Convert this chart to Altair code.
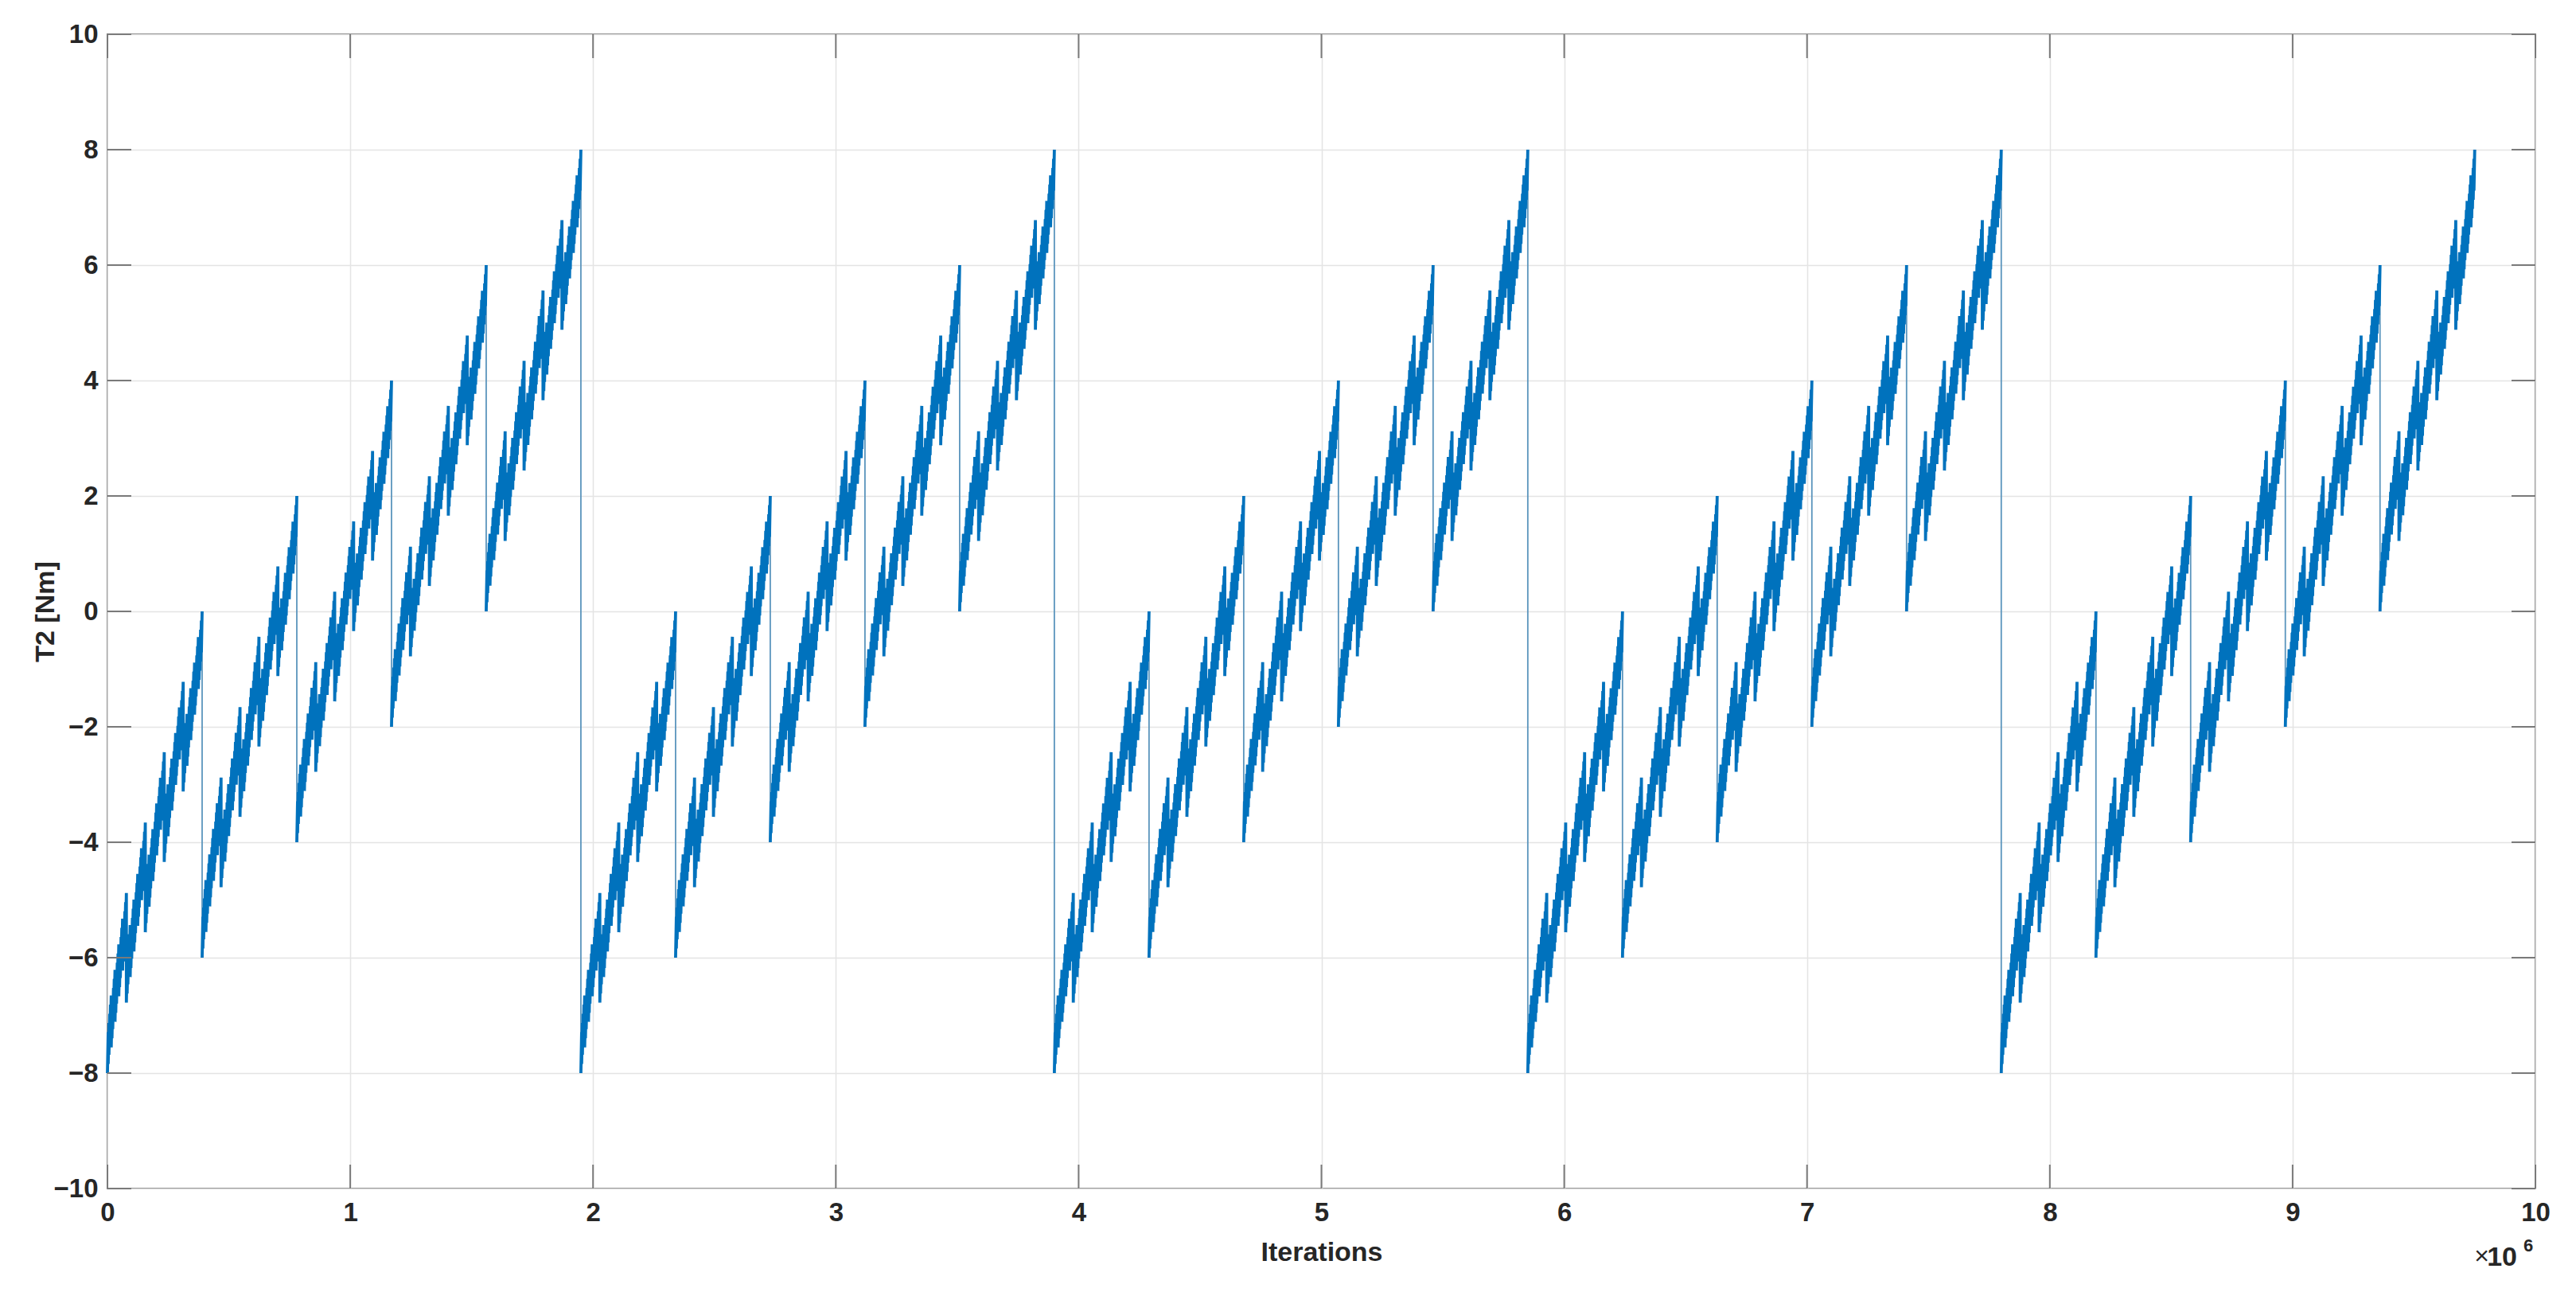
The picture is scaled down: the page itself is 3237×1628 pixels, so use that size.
import altair as alt
import numpy as np
import pandas as pd

# ---- values ----
PERIOD_STARTS = [0.0, 1.95e6, 3.90e6, 5.85e6, 7.80e6]   # where T2 jumps back to -8
PERIOD_LENGTH = 1.95e6
SUBRAMP_FIRST = [-8.0, -6.0, -4.0, -2.0, 0.0]           # first value of each sub-ramp
SUBRAMP_LAST = [0.0, 2.0, 4.0, 6.0, 8.0]                # last value of each sub-ramp
NESTED_DROPS = [6.0, 1.9, 0.9, 0.55]                    # drop at end of sub-ramp / tooth / step / ripple
BRANCH = 5                                              # each ramp holds 5 smaller ones
X_TICKS = [0, 1e6, 2e6, 3e6, 4e6, 5e6, 6e6, 7e6, 8e6, 9e6, 10e6]
Y_TICKS = [-10, -8, -6, -4, -2, 0, 2, 4, 6, 8, 10]
EXP_TEXT = ["×", "10", "6"]

# ---- build the nested sawtooth from the read values ----
levels = len(NESTED_DROPS)
amp = [(SUBRAMP_LAST[-1] - SUBRAMP_FIRST[0]) - NESTED_DROPS[0]]
for k in range(1, levels):
    amp.append(NESTED_DROPS[k - 1] - NESTED_DROPS[k])
amp.append(NESTED_DROPS[-1])
n_fine = BRANCH ** levels
j = np.arange(n_fine)
v_start = SUBRAMP_FIRST[0] + amp[0] * j / n_fine
rise = amp[0] / n_fine
for k in range(1, levels + 1):
    m = BRANCH ** (levels - k)
    v_start = v_start + amp[k] * (j % m) / m
    rise += amp[k] / m
v_end = v_start + rise
dt = PERIOD_LENGTH / n_fine

xs, ys = [], []
for p in PERIOD_STARTS:
    t0 = p + j * dt
    t1 = p + (j + 1) * dt
    xs.append(np.column_stack([t0, t1]).ravel())
    ys.append(np.column_stack([v_start, v_end]).ravel())
df = pd.DataFrame({"x": np.concatenate(xs), "y": np.concatenate(ys)})
df["i"] = np.arange(len(df))
per_ramp = 2 * n_fine // len(SUBRAMP_FIRST)
df["g"] = df["i"] // per_ramp

# thin vertical jumps between consecutive sub-ramps
ends = df.groupby("g").last()
starts = df.groupby("g").first()
jumps = pd.DataFrame({
    "x": ends["x"].values[:-1],
    "y": ends["y"].values[:-1],
    "y2": starts["y"].values[1:],
})

W, H = 3051, 1450
FONT = "Liberation Sans"
TXT = "#262626"
AX = "#7a7a7a"
BLUE = "#0072BD"
TL = 30
LFS = 33

xscale = alt.Scale(domain=[0, 1e7], nice=False, zero=False)
yscale = alt.Scale(domain=[-10, 10], nice=False, zero=False)

xaxis = alt.Axis(values=X_TICKS, labelExpr="format(datum.value/1000000,'d')",
                 title="Iterations", ticks=False, grid=True, gridColor="#e4e4e4",
                 gridWidth=1.5, domain=False, labelPadding=14,
                 labelFontSize=LFS, labelFont=FONT, labelFontWeight="bold", labelColor=TXT,
                 titleFontSize=34, titleFont=FONT, titleFontWeight="bold", titleColor=TXT,
                 titleX=W / 2, titleY=90, titleBaseline="alphabetic", labelFlush=False)
yaxis = alt.Axis(values=Y_TICKS, title="T2 [Nm]", ticks=False, grid=True,
                 gridColor="#e4e4e4", gridWidth=1.5, domain=False, labelPadding=12,
                 labelFontSize=LFS, labelFont=FONT, labelFontWeight="bold", labelColor=TXT,
                 titleFontSize=34, titleFont=FONT, titleFontWeight="bold", titleColor=TXT,
                 titleX=-78, titleY=H / 2, titleBaseline="middle", titleAngle=270,
                 labelFlush=False)

line = alt.Chart(df).mark_line(color=BLUE, strokeWidth=3.8).encode(
    x=alt.X("x:Q", scale=xscale, axis=xaxis, title="Iterations"),
    y=alt.Y("y:Q", scale=yscale, axis=yaxis, title="T2 [Nm]"),
    detail="g:N",
    order=alt.Order("i:Q"),
)
jump = alt.Chart(jumps).mark_rule(color="#5b95bd", strokeWidth=1.8).encode(
    x=alt.X("x:Q", scale=xscale, axis=xaxis, title="Iterations"),
    y=alt.Y("y:Q", scale=yscale, axis=yaxis, title="T2 [Nm]"),
    y2="y2:Q",
)

xt = pd.DataFrame({"x": X_TICKS})
yt = pd.DataFrame({"y": Y_TICKS})
tick_style = dict(color=AX, strokeWidth=2)
bx = alt.Chart(xt).mark_rule(**tick_style).encode(
    x=alt.X("x:Q", scale=xscale, axis=xaxis, title="Iterations"),
    y=alt.value(H), y2=alt.value(H - TL))
tx = alt.Chart(xt).mark_rule(**tick_style).encode(
    x=alt.X("x:Q", scale=xscale, axis=xaxis, title="Iterations"),
    y=alt.value(0), y2=alt.value(TL))
ly = alt.Chart(yt).mark_rule(**tick_style).encode(
    y=alt.Y("y:Q", scale=yscale, axis=yaxis, title="T2 [Nm]"),
    x=alt.value(0), x2=alt.value(TL))
ry = alt.Chart(yt).mark_rule(**tick_style).encode(
    y=alt.Y("y:Q", scale=yscale, axis=yaxis, title="T2 [Nm]"),
    x=alt.value(W - TL), x2=alt.value(W))

times = alt.Chart(pd.DataFrame({"t": [EXP_TEXT[0]]})).mark_text(
    align="right", baseline="alphabetic", fontSize=32, font=FONT, color=TXT).encode(
    x=alt.value(2993), y=alt.value(1545), text="t:N")
ten = alt.Chart(pd.DataFrame({"t": [EXP_TEXT[1]]})).mark_text(
    align="right", baseline="alphabetic", fontSize=34, font=FONT, fontWeight="bold",
    color=TXT).encode(x=alt.value(3028), y=alt.value(1547), text="t:N")
six = alt.Chart(pd.DataFrame({"t": [EXP_TEXT[2]]})).mark_text(
    align="left", baseline="alphabetic", fontSize=22, font=FONT, fontWeight="bold",
    color=TXT).encode(x=alt.value(3036), y=alt.value(1529), text="t:N")

chart = alt.layer(jump, line, bx, tx, ly, ry, times, ten, six).properties(
    width=W, height=H,
    autosize=alt.AutoSizeParams(type="none"),
    padding={"left": 127, "top": 35, "right": 43, "bottom": 127},
    background="white",
).configure_view(stroke=AX, strokeWidth=2)

chart.save("out.html", embed_options={"renderer": "svg", "actions": False})
